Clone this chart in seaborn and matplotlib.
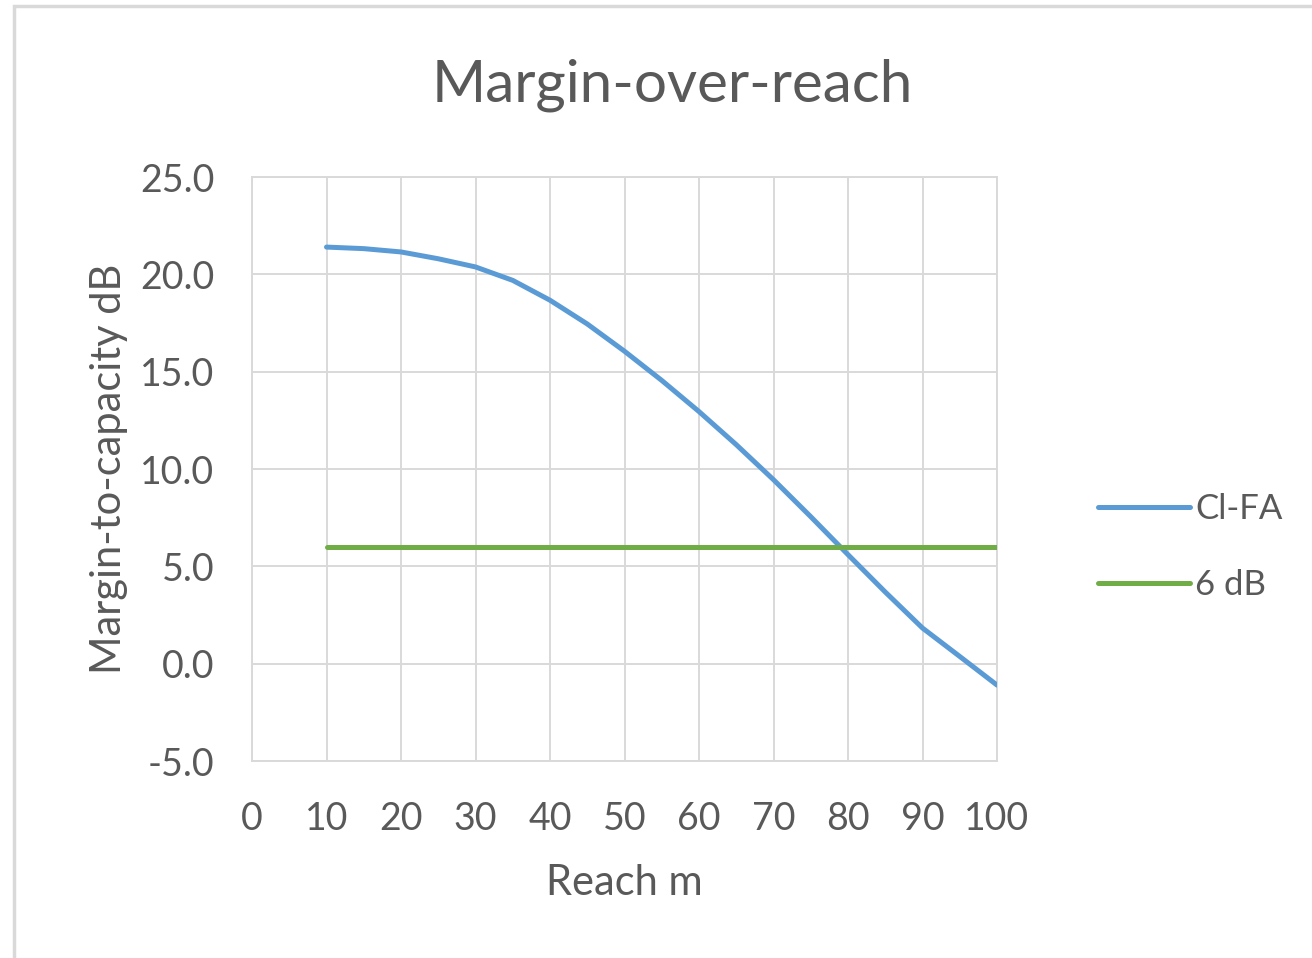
import matplotlib
matplotlib.use("Agg")
import matplotlib.pyplot as plt
import seaborn as sns
import pandas as pd
from matplotlib.patches import Rectangle

# Reach (m) and margin-to-capacity (dB)
reach = [10, 15, 20, 25, 30, 35, 40, 45, 50, 55,
         60, 65, 70, 75, 80, 85, 90, 95, 100]
margin_clfa = [21.4, 21.32, 21.15, 20.8, 20.38, 19.69, 18.67, 17.45, 16.05, 14.55,
               12.95, 11.25, 9.45, 7.55, 5.6, 3.68, 1.83, 0.37, -1.1]
threshold_db = [6.0] * len(reach)

series_names = ["Cl-FA", "6 dB"]
x_ticks = list(range(0, 101, 10))
y_ticks = [-5.0, 0.0, 5.0, 10.0, 15.0, 20.0, 25.0]

df = pd.DataFrame({
    "Reach": reach * 2,
    "Margin": margin_clfa + threshold_db,
    "Series": [series_names[0]] * len(reach) + [series_names[1]] * len(reach),
})

sns.set_theme(style="white")
plt.rcParams["font.family"] = ["Lato", "DejaVu Sans"]

text_color = "#595959"
grid_color = "#D9D9D9"
palette = {"Cl-FA": "#5B9BD5", "6 dB": "#70AD47"}

fig = plt.figure(figsize=(13.12, 9.58), dpi=100)
ax = fig.add_axes([252 / 1312, 1 - 761 / 958, (997 - 252) / 1312, (761 - 177) / 958])

sns.lineplot(data=df, x="Reach", y="Margin", hue="Series", palette=palette,
             linewidth=3.6, ax=ax, legend=False, zorder=3)
for ln in ax.lines:
    ln.set_solid_capstyle("round")
    ln.set_solid_joinstyle("round")

ax.set_xlim(0, 100)
ax.set_ylim(-5, 25)
ax.set_xticks(x_ticks)
ax.set_yticks(y_ticks)
ax.set_yticklabels([f"{v:.1f}" for v in y_ticks])
ax.grid(True, color=grid_color, linewidth=1.4)
ax.set_axisbelow(True)
for s in ax.spines.values():
    s.set_color(grid_color)
    s.set_linewidth(1.4)
ax.tick_params(axis="both", length=0, labelsize=27, labelcolor=text_color)
ax.tick_params(axis="y", pad=27)
ax.tick_params(axis="x", pad=29)

ax.set_xlabel("Reach m", fontsize=30, color=text_color, labelpad=19)
ax.set_ylabel("Margin-to-capacity dB", fontsize=30, color=text_color, labelpad=9)

fig.text(672 / 1312, 1 - 85 / 958, "Margin-over-reach", fontsize=42,
         color=text_color, ha="center", va="center")

# Legend at the right
handles = [plt.Line2D([], [], color=palette[n], linewidth=3.6, solid_capstyle="round")
           for n in series_names]
fig.legend(handles, series_names, loc="center left",
           bbox_to_anchor=(1067 / 1312, 1 - 547 / 958), frameon=False,
           fontsize=25, labelcolor=text_color, handlelength=2.65,
           handletextpad=0.15, labelspacing=1.27)

# Chart-area border
fig.patches.append(Rectangle((14 / 1312, -0.05), 1.2, 1 - 6 / 958 + 0.05,
                             transform=fig.transFigure, fill=False,
                             edgecolor=grid_color, linewidth=2.5))

fig.savefig("out.png", dpi=100)
